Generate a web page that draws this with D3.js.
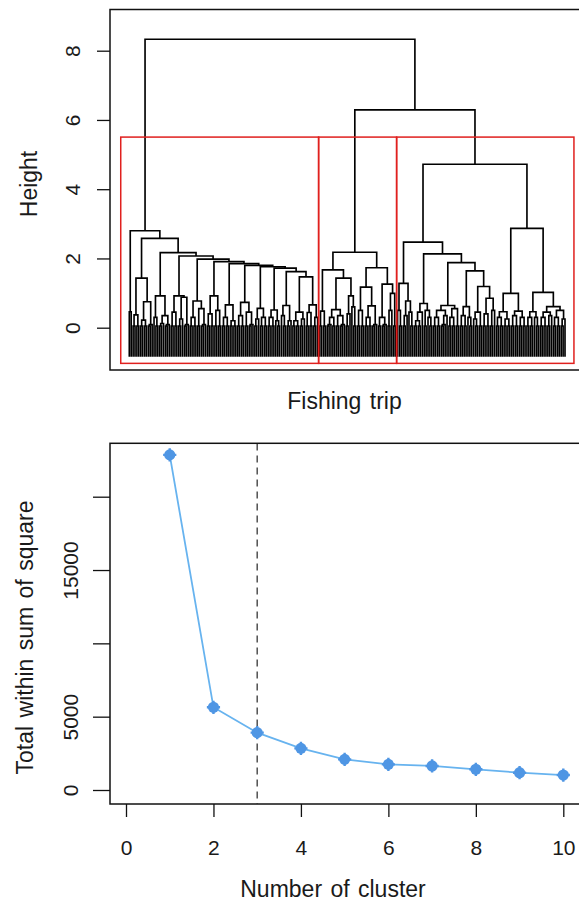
<!DOCTYPE html>
<html>
<head>
<meta charset="utf-8">
<script src="https://cdn.jsdelivr.net/npm/d3@7"></script>
<style>
    body { margin: 0; background: #fff; }
    svg { display: block; font-family: "Liberation Sans", Arial, sans-serif; }
</style>
</head>
<body>
<div id="chart"></div>
<script>
// ---------- dendrogram data (heights) ----------
// a node is [height, left, right]; a plain number n is a tight bundle of n trips
const heightTicks = [0, 2, 4, 6, 8];
const topMerges = [8.33, 6.29];          // root, then the branch holding clusters 2 and 3
const bundleHeights = [0.05, 0.09, 0.12];
const leafBottom = -0.84;

// cluster 1 is a long staircase: each step joins one small group
const comb1Heights = [2.80, 2.58, 2.17, 2.07, 1.98, 1.91, 1.85, 1.80, 1.76, 1.72, 1.62, 1.47];
const comb1Groups = [
    [0.46, 1, 1],
    [1.43, [0.37, 2, 2], [0.75, [0.22, 2, 2], 3]],
    [0.92, [0.30, 1, 2], [0.35, [0.12, 2, 1], 3]],
    [0.92, [0.45, 2, 2], [0.88, [0.25, 2, 1], 3]],
    [0.77, [0.30, 2, 2], [0.55, 2, 3]],
    [0.92, [0.40, 2, 2], [0.50, 2, 2]],
    [0.66, [0.30, 2, 2], [0.20, 2, 2]],
    [0.73, [0.35, 2, 2], [0.45, 2, 3]],
    [0.56, [0.25, 2, 1], [0.30, 2, 2]],
    [0.51, [0.30, 2, 2], [0.20, 1, 2]],
    [0.64, [0.35, 1, 2], [0.20, 2, 1]],
    [0.45, [0.20, 2, 2], [0.25, 2, 1]],
    [0.66, [0.44, 2, 2], [0.30, 2, 1]]
];

const clusterTwo = [2.18,
    [1.67, [0.48, 2, 2], [1.43, [0.52, [0.30, 3, 2], [0.35, 2, 3]], [0.92, [0.40, 2, 1], [0.60, 1, 2]]]],
    [1.73, [1.17, [0.50, 2, 2], [0.63, [0.30, 2, 2], 3]], [1.26, [0.30, 2, 3], [0.99, [0.50, 2, 1], 2]]]
];

const clusterThreeLeft = [2.47,
    [1.28, [0.50, 1, 2], [0.77, [0.35, 2, 1], [0.45, 1, 2]]],
    [2.13,
        [0.70, [0.45, [0.20, 2, 2], 1], [0.50, 2, [0.30, 1, 2]]],
        [1.88,
            [0.64, [0.50, [0.30, 2, 2], [0.35, 3, 1]], [0.55, [0.30, 2, 2], 2]],
            [1.64,
                [0.61, [0.35, 2, 2], [0.30, 1, 2]],
                [1.19, [0.45, [0.25, 1, 2], 2], [0.85, [0.40, 2, 2], [0.50, 2, 1]]]
            ]
        ]
    ]
];
const clusterThreeRight = [2.87,
    [0.99, [0.46, [0.30, 2, 2], [0.25, 2, 2]], [0.48, [0.35, 2, 2], [0.30, 2, 2]]],
    [1.02, [0.46, [0.30, 2, 2], [0.30, 1, 2]],
        [0.61, [0.45, [0.30, 2, 2], [0.35, 2, 1]], [0.50, [0.30, 2, 2], [0.25, 2, 1]]]]
];
const clusterThree = [4.72, clusterThreeLeft, clusterThreeRight];

// ---------- elbow data ----------
const clusterCounts = [1, 2, 3, 4, 5, 6, 7, 8, 9, 10];
const withinSS = [22850, 5640, 3910, 2840, 2090, 1750, 1640, 1410, 1180, 1020];
const elbowXTicks = [0, 2, 4, 6, 8, 10];
const elbowYTicks = [0, 5000, 10000, 15000, 20000];
const elbowYLabels = ["0", "5000", "", "15000", ""];
const chosenK = 3;

// ---------- build the tree ----------
const clusterOne = comb1Groups.reduceRight((acc, g, i) => acc === null ? g : [comb1Heights[i], g, acc], null);
const tree = [topMerges[0], clusterOne, [topMerges[1], clusterTwo, clusterThree]];

const nodeHeight = d => Array.isArray(d) ? d[0]
    : d > 1 ? bundleHeights[Math.min(d - 2, bundleHeights.length - 1)] : leafBottom;
const root = d3.hierarchy(tree, d => Array.isArray(d) ? [d[1], d[2]] : (d > 1 ? [d - 1, 1] : null));

const leaves = root.leaves();
leaves.forEach((l, i) => { l.pos = i; });
root.eachAfter(n => {
    n.h = nodeHeight(n.data);
    if (n.children) n.pos = (n.children[0].pos + n.children[1].pos) / 2;
});

const svg = d3.select("#chart")
    .append("svg")
    .attr("width", 579)
    .attr("height", 900);

const ink = "#1a1a1a";

// ---------- top panel: dendrogram ----------
const xLeaf = d3.scaleLinear().domain([0, leaves.length - 1]).range([129.3, 565]);
const yTop = d3.scaleLinear().domain([0, 8]).range([327.7, 50.7]);

const topY = n => yTop(n.children ? n.h : leafBottom);

svg.append("g")
    .selectAll("path")
    .data(root.descendants().filter(n => n.children))
    .enter()
    .append("path")
    .attr("d", n => {
        const [a, b] = n.children;
        return `M${xLeaf(a.pos)},${topY(a)}V${yTop(n.h)}H${xLeaf(b.pos)}V${topY(b)}`;
    })
    .attr("fill", "none")
    .attr("stroke", "#000")
    .attr("stroke-width", 1.65);

// red boxes round the three clusters (cut between the 2nd and 3rd highest merges)
const cutHeight = (topMerges[1] + clusterThree[0]) / 2;
const clusterNodes = [root.children[0], root.children[1].children[0], root.children[1].children[1]];
const ranges = clusterNodes.map(c => {
    const ls = c.leaves();
    return [ls[0].pos, ls[ls.length - 1].pos];
});
const edges = [ranges[0][0] - 4.5];
for (let i = 1; i < ranges.length; i++) edges.push((ranges[i - 1][1] + ranges[i][0]) / 2);
edges.push(ranges[ranges.length - 1][1] + 4.7);

svg.append("g")
    .selectAll("rect")
    .data(ranges)
    .enter()
    .append("rect")
    .attr("x", (d, i) => xLeaf(edges[i]))
    .attr("width", (d, i) => xLeaf(edges[i + 1]) - xLeaf(edges[i]))
    .attr("y", yTop(cutHeight))
    .attr("height", yTop(-1.03) - yTop(cutHeight))
    .attr("fill", "none")
    .attr("stroke", "#e0201e")
    .attr("stroke-width", 1.5);

// frame
svg.append("rect")
    .attr("x", 110).attr("y", 9.5)
    .attr("width", 471).attr("height", 360.5)
    .attr("fill", "none").attr("stroke", "#111").attr("stroke-width", 1.5);

const topAxis = svg.append("g")
    .attr("transform", "translate(110,0)")
    .call(d3.axisLeft(yTop).tickValues(heightTicks).tickSize(13).tickSizeOuter(0).tickPadding(0));
topAxis.select(".domain").remove();
topAxis.selectAll(".tick line").attr("stroke", "#111").attr("stroke-width", 1.3);
topAxis.selectAll(".tick text")
    .attr("x", null).attr("dy", null)
    .attr("transform", "translate(-30,0) rotate(-90)")
    .attr("text-anchor", "middle")
    .attr("fill", ink)
    .style("font-size", "21px")
    .style("font-family", "Liberation Sans, Arial, sans-serif");

svg.append("text")
    .attr("transform", "translate(36.5,184) rotate(-90)")
    .attr("text-anchor", "middle")
    .attr("fill", ink)
    .style("font-size", "23px")
    .text("Height");

svg.append("text")
    .attr("x", 344.5).attr("y", 409)
    .attr("text-anchor", "middle")
    .attr("fill", ink)
    .style("font-size", "23px")
    .style("word-spacing", "2px")
    .text("Fishing trip");

// ---------- bottom panel: elbow plot ----------
const xElbow = d3.scaleLinear().domain([0, 10]).range([126, 563.3]);
const yElbow = d3.scaleLinear().domain([0, 20000]).range([790, 496.7]);

svg.append("line")
    .attr("x1", xElbow(chosenK)).attr("x2", xElbow(chosenK))
    .attr("y1", 443.5).attr("y2", 804)
    .attr("stroke", "#444")
    .attr("stroke-width", 1.4)
    .attr("stroke-dasharray", "7,5");

const elbowData = clusterCounts.map((k, i) => ({ k, v: withinSS[i] }));

svg.append("path")
    .datum(elbowData)
    .attr("d", d3.line().x(d => xElbow(d.k)).y(d => yElbow(d.v)))
    .attr("fill", "none")
    .attr("stroke", "#67b3ef")
    .attr("stroke-width", 1.8);

const marks = svg.append("g")
    .selectAll("g")
    .data(elbowData)
    .enter()
    .append("g")
    .attr("transform", d => `translate(${xElbow(d.k)},${yElbow(d.v)})`);
marks.append("circle")
    .attr("r", 5.6)
    .attr("fill", "#4f96e4");
marks.append("path")
    .attr("d", "M-6.6,0H6.6M0,-6.6V6.6")
    .attr("stroke", "#4f96e4")
    .attr("stroke-width", 2.4);

svg.append("rect")
    .attr("x", 110).attr("y", 443.3)
    .attr("width", 471).attr("height", 360.7)
    .attr("fill", "none").attr("stroke", "#111").attr("stroke-width", 1.5);

const elbowLeft = svg.append("g")
    .attr("transform", "translate(110,0)")
    .call(d3.axisLeft(yElbow).tickValues(elbowYTicks).tickSize(17).tickSizeOuter(0)
        .tickFormat((d, i) => elbowYLabels[i]));
elbowLeft.select(".domain").remove();
elbowLeft.selectAll(".tick line").attr("stroke", "#111").attr("stroke-width", 1.3);
elbowLeft.selectAll(".tick text")
    .attr("x", null).attr("dy", null)
    .attr("transform", "translate(-32,0) rotate(-90)")
    .attr("text-anchor", "middle")
    .attr("fill", ink)
    .style("font-size", "21px")
    .style("font-family", "Liberation Sans, Arial, sans-serif");

const elbowBottom = svg.append("g")
    .attr("transform", "translate(0,804)")
    .call(d3.axisBottom(xElbow).tickValues(elbowXTicks).tickSize(13).tickSizeOuter(0));
elbowBottom.select(".domain").remove();
elbowBottom.selectAll(".tick line").attr("stroke", "#111").attr("stroke-width", 1.3);
elbowBottom.selectAll(".tick text")
    .attr("y", 51).attr("dy", null)
    .attr("fill", ink)
    .style("font-size", "21px")
    .style("font-family", "Liberation Sans, Arial, sans-serif");

svg.append("text")
    .attr("transform", "translate(33.3,637.5) rotate(-90)")
    .attr("text-anchor", "middle")
    .attr("fill", ink)
    .style("font-size", "23px")
    .style("word-spacing", "2px")
    .text("Total within sum of square");

svg.append("text")
    .attr("x", 333).attr("y", 896.5)
    .attr("text-anchor", "middle")
    .attr("fill", ink)
    .style("font-size", "23px")
    .style("word-spacing", "2px")
    .text("Number of cluster");
</script>
</body>
</html>
